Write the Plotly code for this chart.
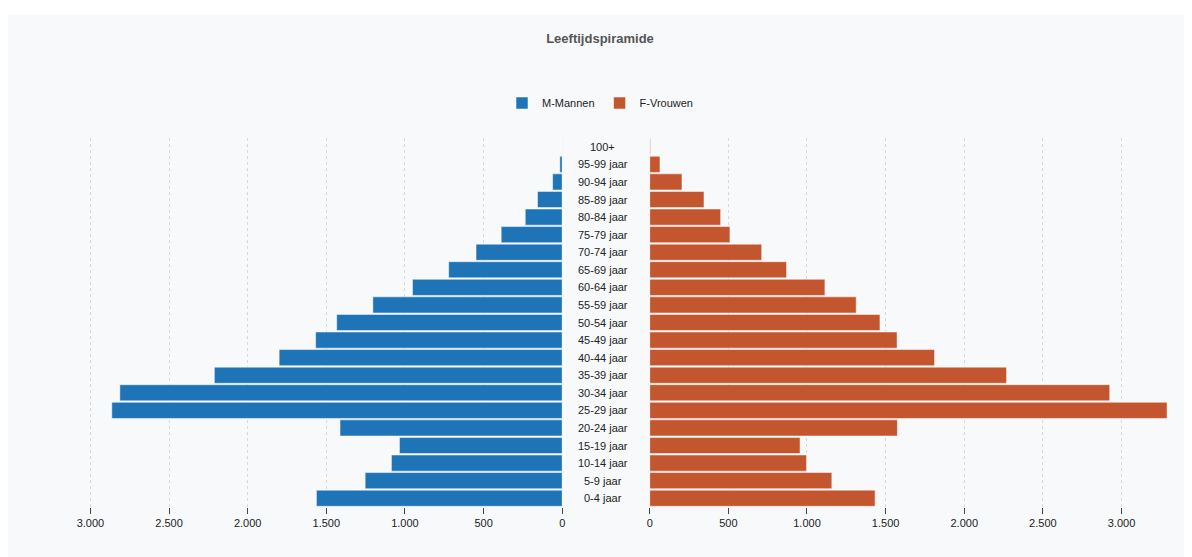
import plotly.graph_objects as go

age_groups = ["0-4 jaar", "5-9 jaar", "10-14 jaar", "15-19 jaar", "20-24 jaar",
              "25-29 jaar", "30-34 jaar", "35-39 jaar", "40-44 jaar", "45-49 jaar",
              "50-54 jaar", "55-59 jaar", "60-64 jaar", "65-69 jaar", "70-74 jaar",
              "75-79 jaar", "80-84 jaar", "85-89 jaar", "90-94 jaar", "95-99 jaar", "100+"]
men = [1563, 1253, 1086, 1035, 1413, 2864, 2813, 2212, 1800, 1568,
       1434, 1204, 952, 722, 548, 388, 235, 157, 61, 15, 1]
women = [1433, 1158, 997, 956, 1575, 3290, 2925, 2269, 1811, 1573,
         1464, 1313, 1114, 870, 712, 510, 451, 345, 205, 65, 5]
tick_vals = [0, 500, 1000, 1500, 2000, 2500, 3000]

W, H = 1184, 549
OFF = 8  # page body margin
BLUE = "#1f74b7"
ORANGE = "#c4562f"
FONT = "Liberation Sans, Arial, sans-serif"
xmax = max(max(men), max(women))

T, B = 138 - OFF, 50
plot_h = H - T - B

fig = go.Figure()
fig.add_trace(go.Bar(y=age_groups, x=men, orientation="h", name="M-Mannen",
                     marker=dict(color=BLUE, line=dict(color="rgba(255,255,255,0.5)", width=1)),
                     xaxis="x", yaxis="y"))
fig.add_trace(go.Bar(y=age_groups, x=women, orientation="h", name="F-Vrouwen",
                     marker=dict(color=ORANGE, line=dict(color="rgba(255,255,255,0.5)", width=1)),
                     xaxis="x2", yaxis="y2"))

for g in age_groups:
    fig.add_annotation(x=(603 - OFF) / W, xref="paper", y=g, yref="y", text=g, showarrow=False,
                       xanchor="center", font=dict(size=11, color="#222", family=FONT))

axis_common = dict(tickvals=tick_vals, tickformat=",d", showgrid=True,
                   gridcolor="#d9d9d9", griddash="dot", gridwidth=1, zeroline=False,
                   ticks="outside", ticklen=6, tickcolor="#444", showline=False,
                   tickfont=dict(size=11, color="#222", family=FONT))

fig.update_layout(
    width=W, height=H,
    margin=dict(l=0, r=0, t=T, b=B),
    paper_bgcolor="white",
    plot_bgcolor="rgba(0,0,0,0)",
    separators=",.",
    font=dict(family=FONT, size=11, color="#222"),
    bargap=0.08,
    title=dict(text="<b>Leeftijdspiramide</b>", x=0.5, xanchor="center",
               y=1 - (38 - OFF) / H, yanchor="middle", yref="container",
               font=dict(size=13, color="#555", family=FONT)),
    legend=dict(orientation="h", x=(600 - OFF) / W, xanchor="center",
                y=1 + (T - (103 - OFF)) / plot_h, yanchor="middle",
                font=dict(size=11, color="#222", family=FONT), bgcolor="rgba(0,0,0,0)",
                itemwidth=30),
    xaxis=dict(domain=[(42 - OFF) / W, (562 - OFF) / W], autorange=False, range=[xmax, 0],
               **axis_common),
    xaxis2=dict(domain=[(650 - OFF) / W, (1170 - OFF) / W], autorange=False, range=[0, xmax],
                **axis_common),
    yaxis=dict(anchor="x", showticklabels=False, showgrid=False, categoryorder="array",
               categoryarray=age_groups, ticks=""),
    yaxis2=dict(anchor="x2", matches="y", showticklabels=False, showgrid=False, ticks=""),
    shapes=[dict(type="rect", xref="paper", yref="paper", x0=-0.01, x1=1.01,
                 y0=-B / plot_h - 0.05, y1=1 + (T - (15 - OFF)) / plot_h,
                 fillcolor="#f8f9fb", line=dict(width=0), layer="below")],
)

fig.write_html("out.html")
